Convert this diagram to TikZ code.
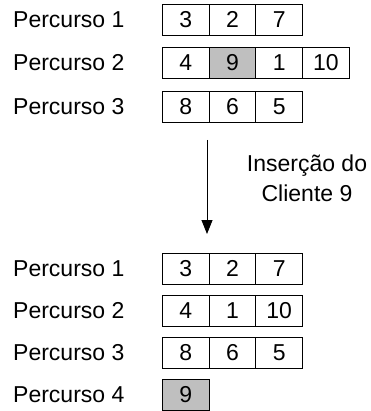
\documentclass[tikz,border=0pt]{standalone}
\usepackage{fontspec}
\setmainfont{Liberation Sans}
\usetikzlibrary{arrows.meta}
\begin{document}
\begin{tikzpicture}[x=1pt,y=-1pt,
  cellbox/.style={draw, line width=0.8pt, minimum width=46.7pt, minimum height=31pt, inner sep=0pt, anchor=north west, font=\fontsize{23}{23}\selectfont},
  grey/.style={fill=black!25},
  lbl/.style={anchor=west, inner sep=0pt, font=\fontsize{23}{23}\selectfont}]
\useasboundingbox (0,0) rectangle (370,411);
% top
\node[lbl] (l1) at (13,20) {Percurso 1};
\node[lbl] (l2) at (13,63) {Percurso 2};
\node[lbl] (l3) at (13,107) {Percurso 3};
\node[cellbox] (a11) at (162,4) {3};
\node[cellbox] (a12) at (208.7,4) {2};
\node[cellbox] (a13) at (255.4,4) {7};
\node[cellbox] (a21) at (162,47) {4};
\node[cellbox,grey] (a22) at (208.7,47) {9};
\node[cellbox] (a23) at (255.4,47) {1};
\node[cellbox] (a24) at (302.1,47) {10};
\node[cellbox] (a31) at (162,91) {8};
\node[cellbox] (a32) at (208.7,91) {6};
\node[cellbox] (a33) at (255.4,91) {5};
% arrow
\coordinate (s) at (207,140);
\coordinate (e) at (207,234);
\draw[line width=0.8pt, -{Triangle[length=14pt,width=11pt]}] (s) -- (e);
\node[align=center, inner sep=0pt, font=\fontsize{23}{30}\selectfont] (t) at (307,178) {Inserção do\\Cliente 9};
% bottom
\node[lbl] (m1) at (13,269) {Percurso 1};
\node[lbl] (m2) at (13,311) {Percurso 2};
\node[lbl] (m3) at (13,353) {Percurso 3};
\node[lbl] (m4) at (13,395) {Percurso 4};
\node[cellbox] (b11) at (162,253) {3};
\node[cellbox] (b12) at (208.7,253) {2};
\node[cellbox] (b13) at (255.4,253) {7};
\node[cellbox] (b21) at (162,295) {4};
\node[cellbox] (b22) at (208.7,295) {1};
\node[cellbox] (b23) at (255.4,295) {10};
\node[cellbox] (b31) at (162,337) {8};
\node[cellbox] (b32) at (208.7,337) {6};
\node[cellbox] (b33) at (255.4,337) {5};
\node[cellbox,grey] (b41) at (162,379) {9};
\end{tikzpicture}
\end{document}
